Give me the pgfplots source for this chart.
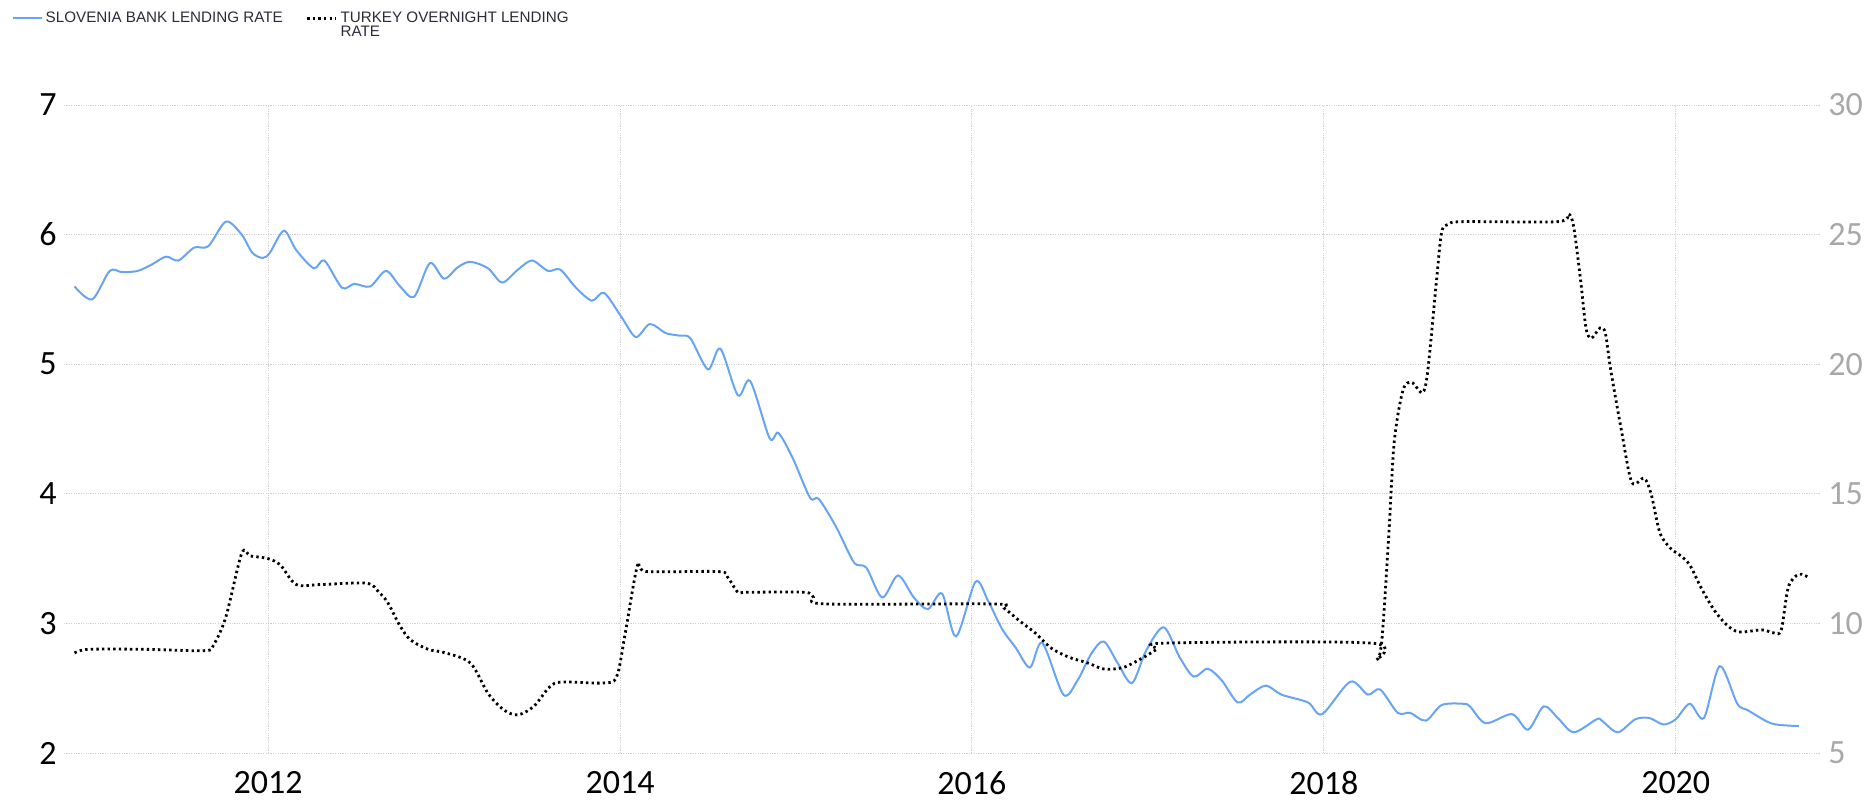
\documentclass[border=0pt]{standalone}
\usepackage{pgfplots}
\pgfplotsset{compat=1.18}
\usepackage{fontspec}
\setmainfont{Carlito}
\newfontfamily\legendfont{Liberation Sans}
\definecolor{slovblue}{HTML}{68A4F4}
\definecolor{gridgray}{HTML}{D0D0D0}
\definecolor{rightgray}{HTML}{A8A8A8}
\definecolor{legendtext}{HTML}{2B2B3A}

% Slovenia bank lending rate (left axis, percent)
\pgfplotstableread{
year rate
2010.90 5.60
2011.00 5.50
2011.10 5.72
2011.17 5.71
2011.26 5.72
2011.34 5.77
2011.42 5.83
2011.49 5.80
2011.58 5.90
2011.66 5.91
2011.76 6.10
2011.85 6.00
2011.91 5.86
2011.97 5.82
2012.01 5.86
2012.09 6.03
2012.16 5.88
2012.26 5.74
2012.32 5.80
2012.42 5.59
2012.49 5.62
2012.58 5.60
2012.67 5.72
2012.75 5.60
2012.83 5.52
2012.92 5.78
2013.00 5.66
2013.08 5.75
2013.15 5.79
2013.25 5.74
2013.33 5.63
2013.42 5.73
2013.50 5.80
2013.59 5.72
2013.66 5.73
2013.75 5.59
2013.84 5.49
2013.91 5.55
2014.01 5.36
2014.09 5.21
2014.17 5.31
2014.26 5.24
2014.34 5.22
2014.40 5.20
2014.50 4.96
2014.57 5.12
2014.67 4.76
2014.74 4.87
2014.85 4.43
2014.90 4.47
2014.98 4.28
2015.08 3.97
2015.13 3.96
2015.23 3.74
2015.33 3.47
2015.40 3.43
2015.49 3.20
2015.58 3.37
2015.67 3.20
2015.75 3.11
2015.83 3.23
2015.91 2.90
2016.02 3.32
2016.09 3.18
2016.17 2.96
2016.25 2.81
2016.33 2.66
2016.40 2.85
2016.52 2.45
2016.60 2.56
2016.68 2.77
2016.75 2.86
2016.83 2.69
2016.91 2.54
2016.99 2.79
2017.09 2.97
2017.18 2.74
2017.26 2.59
2017.34 2.65
2017.42 2.56
2017.51 2.39
2017.58 2.45
2017.67 2.52
2017.76 2.45
2017.91 2.39
2017.99 2.30
2018.15 2.55
2018.25 2.45
2018.32 2.49
2018.42 2.31
2018.49 2.31
2018.58 2.25
2018.67 2.37
2018.79 2.38
2018.83 2.36
2018.92 2.23
2019.07 2.30
2019.16 2.18
2019.25 2.36
2019.33 2.27
2019.42 2.16
2019.55 2.26
2019.58 2.25
2019.67 2.16
2019.77 2.26
2019.85 2.27
2019.93 2.22
2020.00 2.26
2020.08 2.38
2020.16 2.27
2020.25 2.67
2020.35 2.38
2020.41 2.33
2020.54 2.23
2020.66 2.21
2020.70 2.21
}\slovenia

% Turkey overnight lending rate (right axis, percent)
\pgfplotstableread{
year rate
2010.90 8.86
2010.98 9.00
2011.30 9.00
2011.64 8.95
2011.69 9.17
2011.76 10.25
2011.85 12.70
2011.90 12.60
2012.00 12.50
2012.07 12.25
2012.16 11.50
2012.30 11.50
2012.56 11.55
2012.63 11.20
2012.68 10.80
2012.75 9.90
2012.81 9.36
2012.91 9.00
2013.01 8.86
2013.15 8.47
2013.25 7.30
2013.34 6.66
2013.42 6.47
2013.51 6.80
2013.60 7.55
2013.67 7.74
2013.90 7.70
2013.98 7.93
2014.03 9.63
2014.10 12.25
2014.15 12.00
2014.56 12.00
2014.61 11.80
2014.67 11.20
2014.72 11.20
2015.05 11.20
2015.10 11.00
2015.17 10.75
2016.12 10.75
2016.18 10.60
2016.27 10.10
2016.36 9.63
2016.45 9.05
2016.55 8.70
2016.66 8.47
2016.75 8.24
2016.86 8.30
2016.97 8.67
2017.05 9.00
2017.10 9.24
2018.27 9.24
2018.30 8.60
2018.33 9.36
2018.37 13.50
2018.40 17.00
2018.45 19.00
2018.50 19.30
2018.56 18.90
2018.59 19.70
2018.64 23.20
2018.67 25.10
2018.71 25.40
2018.79 25.50
2019.33 25.50
2019.39 25.80
2019.42 25.30
2019.46 23.20
2019.49 21.40
2019.52 21.00
2019.57 21.40
2019.60 21.20
2019.63 19.80
2019.69 17.50
2019.75 15.45
2019.82 15.60
2019.86 15.00
2019.91 13.50
2019.97 12.90
2020.03 12.60
2020.08 12.25
2020.15 11.30
2020.22 10.50
2020.29 9.94
2020.36 9.67
2020.49 9.75
2020.56 9.63
2020.60 9.75
2020.64 11.40
2020.70 11.90
2020.76 11.75
}\turkey

\pgfplotsset{
  common/.style={
    at={(32pt,23.5pt)}, anchor=south west,
    width=878pt, height=324pt, scale only axis,
    xmin=2010.84, xmax=2020.82,
    axis line style={draw=none},
    major tick length=0pt,
    /pgf/number format/1000 sep={},
    /pgf/number format/assume math mode=true,
    ticklabel style={font=\fontsize{17}{17}\selectfont, inner sep=0pt},
  },
}

\begin{document}
\begin{tikzpicture}[x=1pt,y=1pt]
\path[use as bounding box] (0,0) rectangle (938,400);
\begin{axis}[
  common,
  ymin=2, ymax=7,
  xtick={2012,2014,2016,2018,2020},
  ytick={2,3,4,5,6,7},
  xticklabel style={yshift=-9pt},
  yticklabel style={xshift=-3.5pt},
  xmajorgrids, ymajorgrids,
  grid style={gridgray, line width=0.5pt, dash pattern=on 0.6pt off 0.6pt},
  legend style={at={(-0.03,1.15)}, anchor=north west, draw=none, fill=none,
    inner sep=0pt, font=\legendfont\fontsize{7.6}{8.2}\selectfont,
    text=legendtext, legend columns=2,
    /tikz/every even column/.append style={column sep=10pt},
    nodes={inner sep=1.5pt}},
  legend cell align=left,
  legend image code/.code={\draw[#1] (0pt,0pt) -- (14.5pt,0pt);},
]
\addplot[slovblue, line width=1pt, smooth, tension=0.5] table[x=year, y=rate] {\slovenia};
\addlegendentry{SLOVENIA BANK LENDING RATE}
\addlegendimage{black, line width=1.4pt, dash pattern=on 1.2pt off 1.6pt}
\addlegendentry{\begin{tabular}[t]{@{}l@{}}TURKEY OVERNIGHT LENDING\\[-1.5pt]RATE\end{tabular}}
\end{axis}
\begin{axis}[
  common,
  ymin=5, ymax=30,
  hide x axis,
  axis y line*=right,
  ytick={5,10,15,20,25,30},
  yticklabel style={text=rightgray, xshift=4pt},
]
\addplot[black, line width=1.4pt, dash pattern=on 1.2pt off 1.6pt, smooth, tension=0.5] table[x=year, y=rate] {\turkey};
\end{axis}
\end{tikzpicture}
\end{document}
